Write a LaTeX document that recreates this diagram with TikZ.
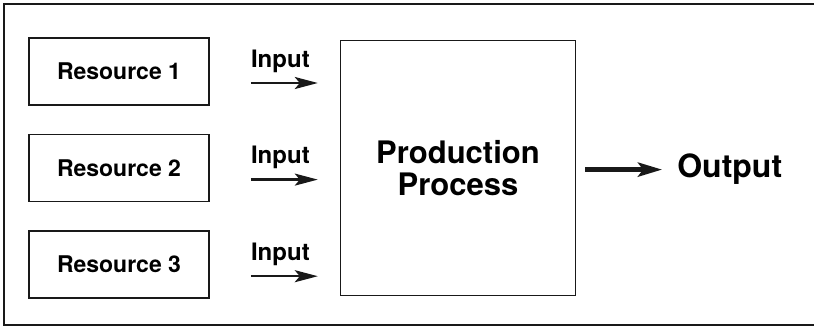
\documentclass[tikz,border=0pt]{standalone}
\usepackage{fontspec}
\setmainfont{TeX Gyre Heros}
\usetikzlibrary{arrows.meta,positioning}

\begin{document}
\begin{tikzpicture}[
  x=1pt, y=-1pt, node distance=28pt, font=\bfseries,
  B/.style={draw=black!90, line width=1.6pt, minimum width=180pt,
            minimum height=67pt, inner sep=0pt,
            font=\bfseries\fontsize{23}{27}\selectfont},
  lbl/.style={inner sep=0pt, font=\bfseries\fontsize{24}{28}\selectfont},
  inarrow/.style={line width=2.4pt, draw=black!90,
            -{Stealth[length=23pt, width=12pt, inset=5pt]}},
  outarrow/.style={line width=5pt, draw=black!90,
            -{Stealth[length=24pt, width=14pt, inset=5pt]}},
]
\useasboundingbox (0,0) rectangle (814,327);

% open frame round the figure
\draw[line width=2.5pt, black!90] (814,4) -- (4,4) -- (4,325) -- (814,325);

\node[B] (res1) at (119,71.5) {Resource 1};
\node[B, below=of res1] (res2) {Resource 2};
\node[B, below=of res2] (res3) {Resource 3};

\node[draw=black!90, line width=1.3pt, minimum width=235pt,
      minimum height=255pt, align=center, right=130pt of res2,
      font=\bfseries\fontsize{31}{32}\selectfont] (proc)
      {Production\\Process};

% inputs feeding the process
\foreach \i in {1,2,3} {
  \coordinate (a\i) at ([xshift=41pt, yshift=-11.5pt]res\i.east);
  \node[lbl, anchor=base west] (in\i) at ([yshift=16pt]a\i) {Input};
  \draw[inarrow, shorten >=22pt] (a\i) -- (a\i -| proc.west);
}

\node[inner sep=0pt, anchor=west, font=\bfseries\fontsize{32}{36}\selectfont]
      (out) at ([xshift=101pt, yshift=-1.5pt]proc.east) {Output};
\draw[outarrow, shorten <=9pt, shorten >=15pt]
      (proc.east |- out.west) -- (out.west);

\end{tikzpicture}
\end{document}
